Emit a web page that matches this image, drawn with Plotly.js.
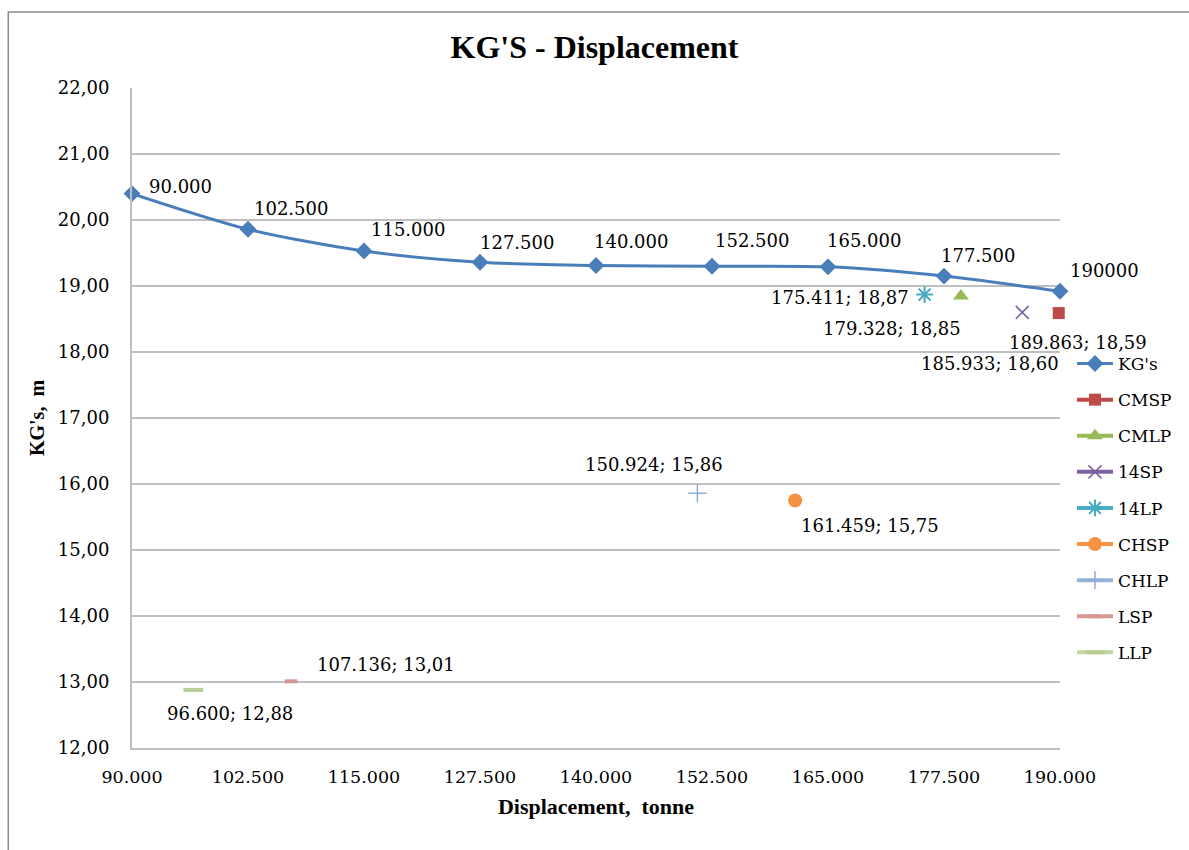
<!DOCTYPE html>
<html>
<head>
<meta charset="utf-8">
<script src="https://cdn.plot.ly/plotly-3.0.1.min.js"></script>
<style>html,body{margin:0;padding:0;background:#fff;}#chart{width:1189px;height:850px;}</style>
</head>
<body>
<div id="chart"></div>
<script>
// ---- data ----
const kgX = [90000, 102500, 115000, 127500, 140000, 152500, 165000, 177500, 190000];
const kgY = [20.40, 19.86, 19.53, 19.36, 19.31, 19.30, 19.29, 19.15, 18.92];
const kgLabels = ['90.000', '102.500', '115.000', '127.500', '140.000', '152.500', '165.000', '177.500', '190000'];

const pointNames = ['CMSP', 'CMLP', '14SP', '14LP', 'CHSP', 'CHLP', 'LSP', 'LLP'];
const pointX = [189863, 179328, 185933, 175411, 161459, 150924, 107136, 96600];
const pointY = [18.59, 18.85, 18.60, 18.87, 15.75, 15.86, 13.01, 12.88];
const pointLabels = ['189.863; 18,59', '179.328; 18,85', '185.933; 18,60', '175.411; 18,87',
                     '161.459; 15,75', '150.924; 15,86', '107.136; 13,01', '96.600; 12,88'];

const xTickVals = [90000, 102500, 115000, 127500, 140000, 152500, 165000, 177500, 190000];
const xTickText = ['90.000', '102.500', '115.000', '127.500', '140.000', '152.500', '165.000', '177.500', '190.000'];
const yTickVals = [12, 13, 14, 15, 16, 17, 18, 19, 20, 21, 22];
const yTickText = ['12,00', '13,00', '14,00', '15,00', '16,00', '17,00', '18,00', '19,00', '20,00', '21,00', '22,00'];

// ---- styles ----
const serif = '"DejaVu Serif", serif';
const styles = {
  'CMSP': {symbol: 'square', size: 12, color: '#BE4B48', lineColor: '#BE4B48'},
  'CMLP': {symbol: 'triangle-up', size: 14, color: '#98B954', lineColor: '#98B954'},
  '14SP': {symbol: 'x-thin-open', size: 13, color: '#7D60A0', lineColor: '#7D60A0', mlw: 1.5},
  '14LP': {symbol: 'asterisk-open', size: 14, color: '#46AAC5', lineColor: '#4BACC6', mlw: 2},
  'CHSP': {symbol: 'circle', size: 14, color: '#F69240', lineColor: '#F79646'},
  'CHLP': {symbol: 'cross-thin-open', size: 13, color: '#8FAADC', lineColor: '#95B3D7', mlw: 1.5},
  'LSP':  {symbol: 'line-ew-open', size: 9, color: '#D99694', lineColor: '#D99694', mlw: 4},
  'LLP':  {symbol: 'line-ew-open', size: 14, color: '#B9CD96', lineColor: '#C3D69B', mlw: 4}
};
// label offsets (pixels) relative to each point
const kgLabelShift = [[15, 7], [4, 21], [5, 22], [-2, 20], [-4, 24], [1, 26], [-3, 26], [-5, 21], [8, 21]];
const pointLabelPos = {
  'CMSP': {anchor: 'center', dx: 19, dy: -29},
  'CMLP': {anchor: 'right', dx: 2, dy: -33},
  '14SP': {anchor: 'center', dx: -32, dy: -51},
  '14LP': {anchor: 'right', dx: -14, dy: -3},
  'CHSP': {anchor: 'center', dx: 75, dy: -25},
  'CHLP': {anchor: 'center', dx: -43, dy: 29},
  'LSP':  {anchor: 'center', dx: 95, dy: 17},
  'LLP':  {anchor: 'center', dx: 37, dy: -24}
};

const traces = [{
  x: kgX, y: kgY, name: "KG's", legendgroup: 'kg', type: 'scatter', mode: 'lines+markers', cliponaxis: false,
  line: {color: '#4A7EBB', width: 3, shape: 'spline', smoothing: 0.8},
  marker: {symbol: 'diamond', size: 13, color: '#4A7EBB'}
}];
pointNames.forEach((n, i) => {
  const s = styles[n];
  const m = {symbol: s.symbol, size: s.size, color: s.color};
  if (s.mlw) m.line = {color: s.color, width: s.mlw};
  traces.push({
    x: [pointX[i]], y: [pointY[i]], name: n, legendgroup: n, type: 'scatter', mode: 'lines+markers', cliponaxis: false,
    line: {color: s.lineColor, width: 4}, marker: m
  });
});

const labelFont = {family: serif, size: 18, color: '#000'};
const annotations = [];
kgX.forEach((x, i) => {
  annotations.push({x: x, y: kgY[i], xref: 'x', yref: 'y', text: kgLabels[i], showarrow: false,
    xanchor: 'left', yanchor: 'middle', xshift: kgLabelShift[i][0], yshift: kgLabelShift[i][1], font: labelFont});
});
pointNames.forEach((n, i) => {
  const p = pointLabelPos[n];
  annotations.push({x: pointX[i], y: pointY[i], xref: 'x', yref: 'y', text: pointLabels[i], showarrow: false,
    xanchor: p.anchor, yanchor: 'middle', xshift: p.dx, yshift: p.dy, font: labelFont});
});

const W = 1189, H = 850, mL = 132, mR = 127, mT = 88, mB = 102;
const pw = W - mL - mR, ph = H - mT - mB;
const px = v => (v - mL) / pw, py = v => (H - mB - v) / ph;

const layout = {
  width: W, height: H,
  margin: {l: mL, r: mR, t: mT, b: mB, pad: 0},
  paper_bgcolor: '#fff', plot_bgcolor: '#fff',
  title: {text: "KG'S - Displacement", x: 0.5, xanchor: 'center', y: 1 - 47 / H, yanchor: 'middle',
          font: {family: '"Liberation Serif", serif', size: 32, color: '#000', weight: 'bold'}},
  xaxis: {
    range: [90000, 190000], tickvals: xTickVals, ticktext: xTickText,
    showgrid: false, zeroline: false, showline: true, linecolor: '#BFBFBF', linewidth: 2,
    ticks: '', ticklabelstandoff: 12, tickfont: {family: serif, size: 17.5, color: '#000'},
    title: {text: 'Displacement,  tonne', standoff: 13, font: {family: '"Liberation Serif", serif', size: 22, color: '#000', weight: 'bold'}}
  },
  yaxis: {
    range: [12, 22], tickvals: yTickVals, ticktext: yTickText,
    showgrid: true, gridcolor: '#BFBFBF', gridwidth: 1.5, zeroline: false,
    showline: true, linecolor: '#BFBFBF', linewidth: 2,
    ticks: '', ticklabelstandoff: 17, tickfont: {family: serif, size: 18, color: '#000'},
    title: {text: "KG's,  m", standoff: 8, font: {family: '"Liberation Serif", serif', size: 20, color: '#000', weight: 'bold'}}
  },
  legend: {
    x: px(1074), xanchor: 'left', y: py(346), yanchor: 'top',
    font: {family: serif, size: 17, color: '#000'},
    tracegroupgap: 11, traceorder: 'grouped', bgcolor: 'rgba(0,0,0,0)', itemwidth: 36
  },
  showlegend: true,
  annotations: annotations,
  shapes: [{type: 'rect', xref: 'paper', yref: 'paper', x0: px(8), x1: px(1200), y0: py(870), y1: py(12),
            line: {color: '#8C8C8C', width: 1.5}, fillcolor: 'rgba(0,0,0,0)', layer: 'below'}]
};

Plotly.newPlot('chart', traces, layout, {staticPlot: true, displayModeBar: false});
</script>
</body>
</html>
